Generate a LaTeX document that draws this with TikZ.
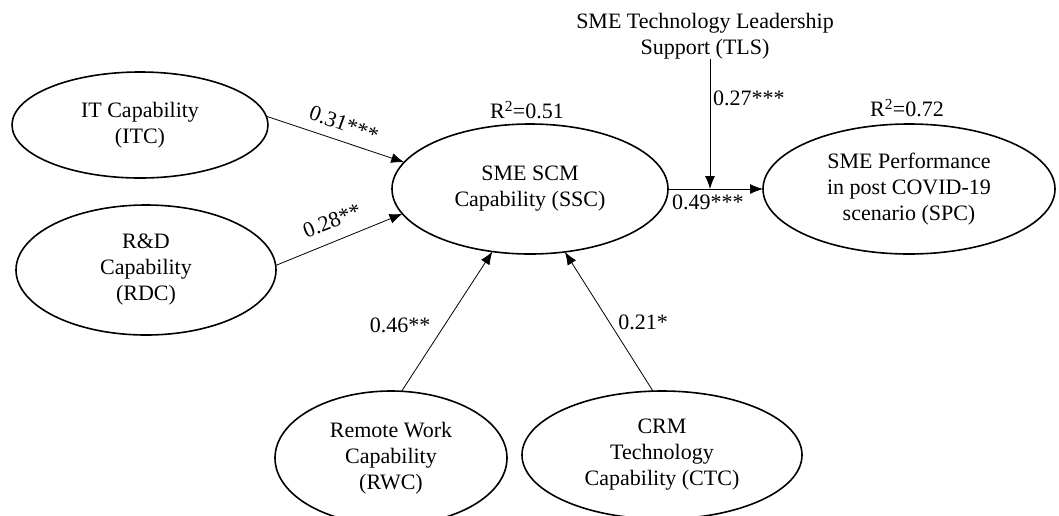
\documentclass[tikz,border=0pt]{standalone}
\usepackage{fontspec}
\setmainfont{Liberation Serif}
\usetikzlibrary{shapes.geometric,arrows.meta}
\tikzset{
  construct/.style={draw, ellipse, line width=1.6pt, inner sep=0pt, outer sep=0pt,
    align=center, font=\fontsize{22}{26}\selectfont},
  path/.style={line width=0.8pt, -{Latex[length=13pt,width=10pt]}},
  coef/.style={font=\fontsize{22}{26}\selectfont, inner sep=0pt},
}
\begin{document}
\begin{tikzpicture}[x=1pt, y=-1pt]
\useasboundingbox (0,0) rectangle (1059,515);
\clip (0,0) rectangle (1059,515);

% constructs
\node[construct, minimum width=256pt, minimum height=106pt] (ITC) at (140,125) {IT Capability\\(ITC)};
\node[construct, minimum width=260pt, minimum height=130pt] (RDC) at (146,270) {R\&D\\Capability\\(RDC)};
\node[construct, minimum width=276pt, minimum height=130pt] (SSC) at (530,189) {SME SCM\\Capability (SSC)};
\node[construct, minimum width=292pt, minimum height=130pt] (SPC) at (909,189) {SME Performance\\in post COVID-19\\scenario (SPC)};
\node[construct, minimum width=232pt, minimum height=134pt] (RWC) at (391,458) {Remote Work\\Capability\\(RWC)};
\node[construct, minimum width=280pt, minimum height=128pt] (CTC) at (662,455) {CRM\\Technology\\Capability (CTC)};

% moderator
\node[coef, align=center] (TLS) at (705,36) {SME Technology Leadership\\Support (TLS)};

% explained variance
\node[coef] (r1) at (527,110) {R\textsuperscript{2}=0.51};
\node[coef] (r2) at (907,108) {R\textsuperscript{2}=0.72};

% structural paths
\draw[path] (ITC.4) -- (SSC.168);
\draw[path] (RDC.2) -- (SSC.191);
\draw[path] (RWC.81) -- (SSC.239);
\draw[path] (CTC.98) -- (SSC.299);
\draw[path] (SSC.east) -- (SPC.west);
\coordinate (mod) at (710,189);
\draw[path] (TLS.south -| mod) -- (mod);

% path coefficients
\node[coef, rotate=-20] (c1) at (344,124) {0.31***};
\node[coef, rotate=22] (c2) at (332,221) {0.28**};
\node[coef] (c3) at (400,325) {0.46**};
\node[coef] (c4) at (643,322) {0.21*};
\node[coef, anchor=west] (c5) at (713,98) {0.27***};
\node[coef, anchor=west] (c6) at (672,202) {0.49***};
\end{tikzpicture}
\end{document}
